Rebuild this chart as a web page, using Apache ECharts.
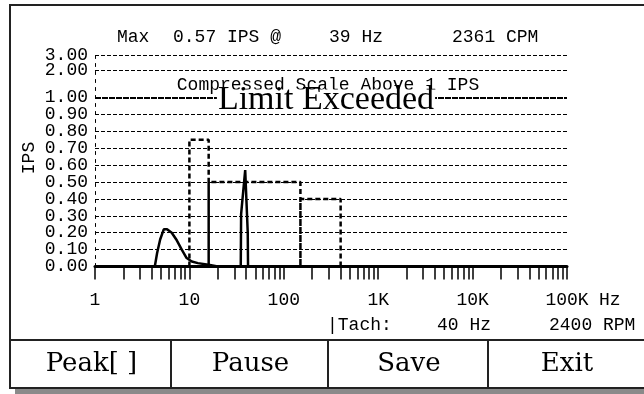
<!DOCTYPE html>
<html><head><meta charset="utf-8">
<script src="https://cdn.jsdelivr.net/npm/echarts@6/dist/echarts.min.js"></script>
<style>html,body{margin:0;padding:0;background:#fff}#c{width:644px;height:394px}</style>
</head><body><div id="c"></div>
<script>
// ---- data ----
const specHz  = [1, 4.3, 4.55, 4.9, 5.35, 5.8, 6.5, 7.35, 8.3, 9.35, 10.6, 12.3, 15.9, 20, 35.0, 35.3, 39, 41.5, 41.8, 100000];
const specIps = [0, 0,   0.08, 0.16, 0.22, 0.22, 0.20, 0.155, 0.10, 0.05, 0.03, 0.02, 0.01, 0, 0, 0.31, 0.57, 0.20, 0, 0];
const limitHz  = [10, 10, 16, 16, 16, 150, 150, 150, 400, 400];
const limitIps = [0, 0.75, 0.75, 0, 0.5, 0.5, 0, 0.4, 0.4, 0];
const yTickValues = [0, 0.1, 0.2, 0.3, 0.4, 0.5, 0.6, 0.7, 0.8, 0.9, 1.0, 2.0, 3.0];
const xTickLabels = {1: '1', 10: '10', 100: '100', 1000: '1K', 10000: '10K', 100000: '100K'};
const maxIps = 0.57, maxHz = 39, maxCpm = 2361, tachHz = 40, tachRpm = 2400;
const buttons = ['Peak[ ]', 'Pause', 'Save', 'Exit'];

// compressed scale above 1 IPS
const K = 0.23;
function compress(v) { return v <= 1 ? v : 1 + K * Math.log(v); }

const minorTicks = [];
for (let d = 0; d < 5; d++) for (let k = 1; k <= 9; k++) minorTicks.push(k * Math.pow(10, d));
minorTicks.push(100000);

const MONO = '"Liberation Mono", "DejaVu Sans Mono", monospace';
const SERIF = '"Liberation Serif", serif';
const YMAX = compress(3) + 0.01;
const PX_PER_IPS = 169;

const chart = echarts.init(document.getElementById('c'), null, {renderer: 'canvas'});

// grid lines + y tick labels (labels drawn at the left end of each level line)
const gridLines = yTickValues.map(v => ({
  yAxis: compress(v),
  lineStyle: v === 0 ? {color: 'rgba(0,0,0,0)', width: 1} :
             v === 1 ? {width: 2, type: [6, 1], color: '#000'} : {width: 1, type: [4, 2], color: '#000'},
  label: {show: true, position: 'start', distance: 7, formatter: v.toFixed(2),
          fontFamily: MONO, fontSize: 18, color: '#000'}
}));

function txt(x, y, text, opt) {
  return {
    type: 'text', x: x, y: y, z: 50,
    style: Object.assign({text: text, font: '18px ' + MONO, fill: '#000', textAlign: 'left', textVerticalAlign: 'middle'}, opt || {})
  };
}

const btnEdges = [10, 171, 328, 488, 644];
const graphics = [
  {type: 'rect', z: 40, shape: {x: 15, y: 389, width: 640, height: 6}, style: {fill: '#8a8a8a'}},
  {type: 'rect', z: 41, shape: {x: 10, y: 5, width: 640, height: 383}, style: {fill: 'none', stroke: '#222', lineWidth: 2}},
  {type: 'line', z: 41, shape: {x1: 10, y1: 340, x2: 650, y2: 340}, style: {stroke: '#222', lineWidth: 2}},
  txt(117, 37, 'Max'),
  txt(173, 37, maxIps.toFixed(2) + ' IPS @'),
  txt(329, 37, maxHz + ' Hz'),
  txt(452, 37, maxCpm + ' CPM'),
  txt(327, 325, '|Tach:'),
  txt(437, 325, tachHz + ' Hz'),
  txt(549, 325, tachRpm + ' RPM'),
  txt(599, 300, 'Hz'),
  txt(328, 85, 'Compressed Scale Above 1 IPS', {textAlign: 'center'}),
  {type: 'text', x: 326, y: 100, z: 60,
   style: {text: 'Limit Exceeded', font: '34px ' + SERIF, fill: '#000', textAlign: 'center', textVerticalAlign: 'middle',
           lineHeight: 21, backgroundColor: '#fff', padding: [0, 1, 0, 1]}},
  {type: 'text', x: 29, y: 158, z: 50, rotation: Math.PI / 2,
   style: {text: 'IPS', font: '18px ' + MONO, fill: '#000', textAlign: 'center', textVerticalAlign: 'middle'}}
];
for (let i = 1; i < btnEdges.length - 1; i++) {
  graphics.push({type: 'line', z: 41, shape: {x1: btnEdges[i], y1: 340, x2: btnEdges[i], y2: 388}, style: {stroke: '#222', lineWidth: 2}});
}
buttons.forEach((b, i) => {
  graphics.push({type: 'text', z: 50, x: (btnEdges[i] + btnEdges[i + 1]) / 2 + 1, y: 364,
    style: {text: b, font: '26px "DejaVu Serif", serif', fill: '#000', textAlign: 'center', textVerticalAlign: 'middle'}});
});

const option = {
  animation: false,
  backgroundColor: '#fff',
  grid: {left: 95, right: 77, top: 266.5 - YMAX * PX_PER_IPS, bottom: 127.5, containLabel: false},
  xAxis: {
    type: 'log', logBase: 10, min: 1, max: 100000,
    axisLine: {show: true, lineStyle: {color: '#000', width: 3}},
    axisTick: {show: true, customValues: minorTicks, length: 13, lineStyle: {color: '#000', width: 1.5}},
    axisLabel: {show: true, margin: 25, showMinLabel: true, showMaxLabel: true, hideOverlap: false,
      fontFamily: MONO, fontSize: 18, color: '#000',
      formatter: v => xTickLabels[Math.round(v)] || ''},
    splitLine: {show: false}
  },
  yAxis: {
    type: 'value', min: 0, max: YMAX,
    axisLine: {show: true, lineStyle: {color: '#000', width: 1, type: [3, 5]}},
    axisTick: {show: false},
    axisLabel: {show: false},
    splitLine: {show: false}
  },
  graphic: graphics,
  series: [
    {
      type: 'line', name: 'limit', symbol: 'none', z: 3,
      data: limitHz.map((f, i) => [f, compress(limitIps[i])]),
      lineStyle: {color: '#000', width: 2.5, type: [5, 3]}
    },
    {
      type: 'line', name: 'spectrum', symbol: 'none', z: 4,
      data: specHz.map((f, i) => [f, compress(specIps[i])]),
      lineStyle: {color: '#000', width: 2.5},
      markLine: {silent: true, symbol: 'none', data: gridLines, z: 1}
    }
  ]
};
chart.setOption(option);
</script>
</body></html>
